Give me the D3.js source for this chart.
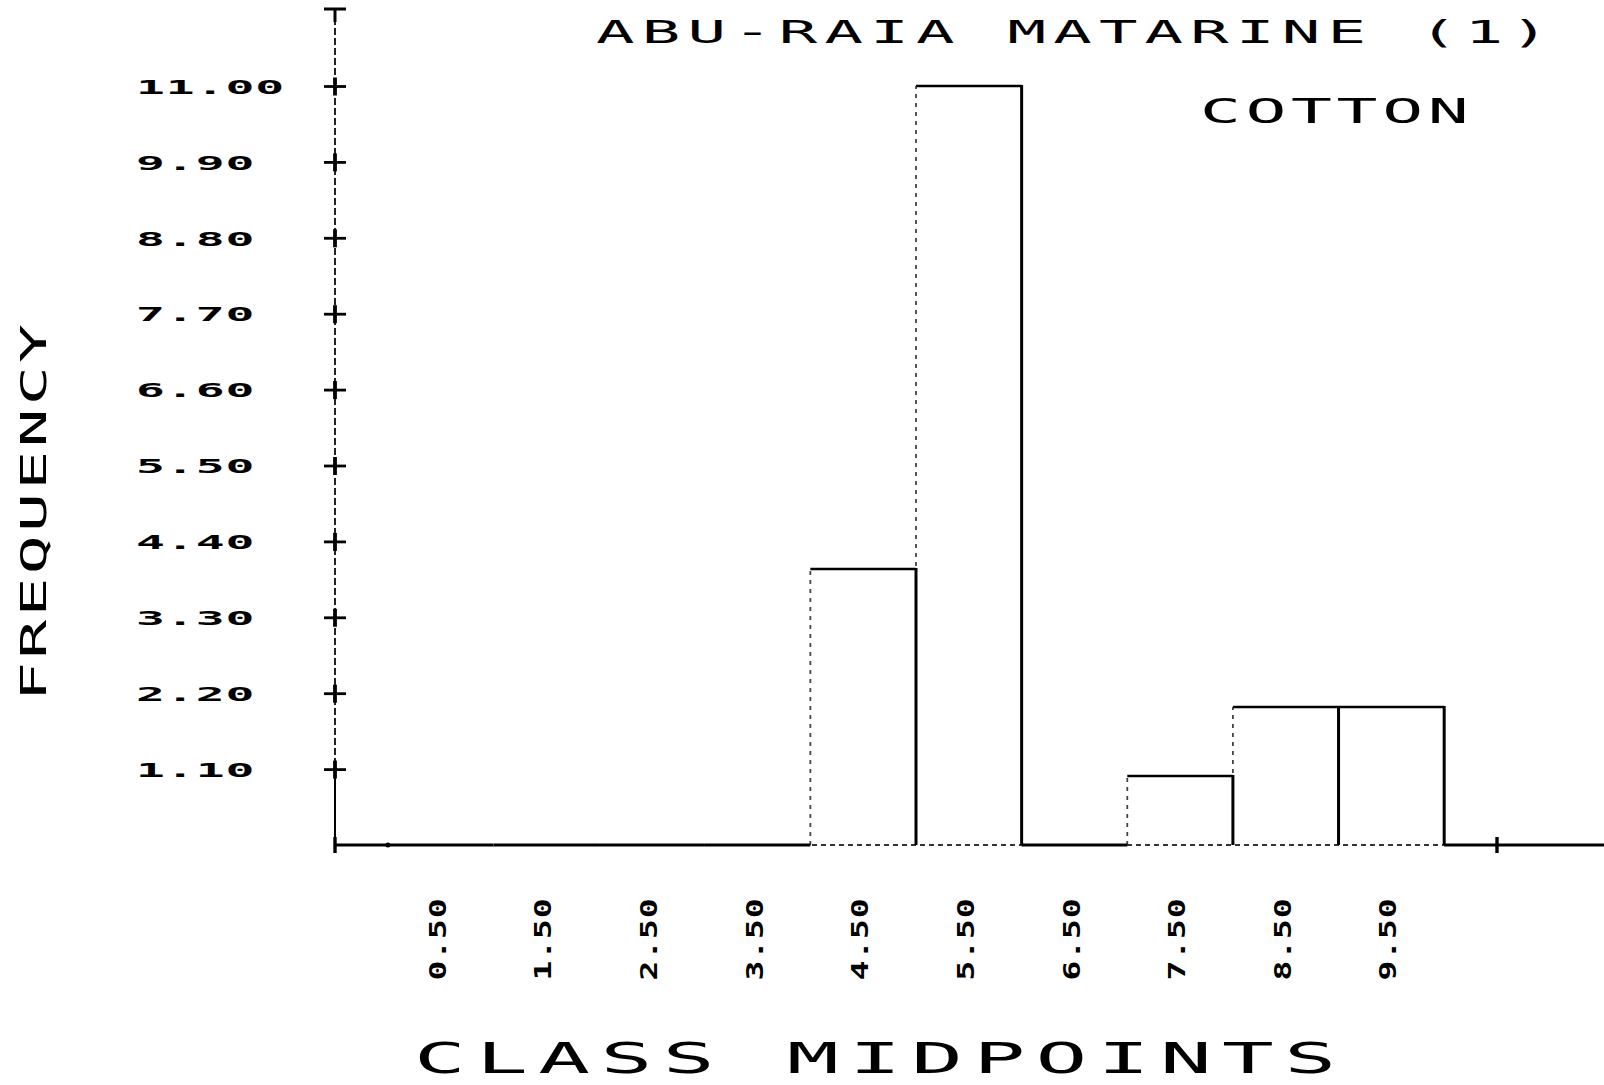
<!DOCTYPE html>
<html><head><meta charset="utf-8">
<script src="https://cdn.jsdelivr.net/npm/d3@7"></script>
<style>body{margin:0;background:#fff}svg{display:block}</style>
</head><body><svg id="c" width="1604" height="1085"></svg>
<script>
// ---- data ----
const classMidpoints = [0.5, 1.5, 2.5, 3.5, 4.5, 5.5, 6.5, 7.5, 8.5, 9.5];
const midpointLabels = ["0.50", "1.50", "2.50", "3.50", "4.50", "5.50", "6.50", "7.50", "8.50", "9.50"];
const frequencies = [0, 0, 0, 0, 4, 11, 0, 1, 2, 2];
const yTickValues = [1.1, 2.2, 3.3, 4.4, 5.5, 6.6, 7.7, 8.8, 9.9, 11.0];
const yTickLabels = ["1.10", "2.20", "3.30", "4.40", "5.50", "6.60", "7.70", "8.80", "9.90", "11.00"];
const titleText = "ABU-RAIA MATARINE (1)";
const subtitleText = "COTTON";
const xTitleText = "CLASS MIDPOINTS";
const yTitleText = "FREQUENCY";

// ---- setup ----
const W = 1604, H = 1085;
const svg = d3.select("#c");
svg.append("rect").attr("width", W).attr("height", H).attr("fill", "#fff");
const mono = "'DejaVu Sans Mono', 'Liberation Mono', monospace";
const x = d3.scaleLinear().domain([-0.5, 10.5]).range([335, 1497]);
const y = d3.scaleLinear().domain([0, 11]).range([845, 86]);
const bins = classMidpoints.map((m, i) => ({ m, f: frequencies[i], x0: m - 0.5, x1: m + 0.5 }));

// ---- baseline ----
svg.append("line").attr("x1", x(-0.5)).attr("x2", W).attr("y1", y(0)).attr("y2", y(0))
  .attr("stroke", "#333").attr("stroke-width", 1.8).attr("stroke-dasharray", "5,4");
svg.append("line").attr("x1", x(-0.5)).attr("x2", x(0)).attr("y1", y(0)).attr("y2", y(0))
  .attr("stroke", "#000").attr("stroke-width", 3);
svg.append("line").attr("x1", x(10)).attr("x2", W).attr("y1", y(0)).attr("y2", y(0))
  .attr("stroke", "#000").attr("stroke-width", 3);
// x-axis crosses
[-0.5, 10.5].forEach(v => {
  svg.append("line").attr("x1", x(v)).attr("x2", x(v)).attr("y1", y(0) - 8).attr("y2", y(0) + 8)
    .attr("stroke", "#000").attr("stroke-width", 3.4);
});
svg.append("circle").attr("cx", x(0)).attr("cy", y(0)).attr("r", 2.5).attr("fill", "#000");

// ---- bars ----
const gb = svg.append("g");
gb.selectAll(".left").data(bins.filter(b => b.f > 0)).join("line")
  .attr("x1", d => x(d.x0)).attr("x2", d => x(d.x0))
  .attr("y1", y(0)).attr("y2", d => y(d.f))
  .attr("stroke", "#444").attr("stroke-width", 1.8).attr("stroke-dasharray", "4,5");
gb.selectAll(".top").data(bins).join("line")
  .attr("x1", d => x(d.x0)).attr("x2", d => x(d.x1))
  .attr("y1", d => y(d.f)).attr("y2", d => y(d.f))
  .attr("stroke", "#000").attr("stroke-width", d => d.f > 0 ? 2.6 : 3);
gb.selectAll(".right").data(bins.filter(b => b.f > 0)).join("line")
  .attr("x1", d => x(d.x1)).attr("x2", d => x(d.x1))
  .attr("y1", d => y(d.f) - 1).attr("y2", y(0))
  .attr("stroke", "#000").attr("stroke-width", 3);

// ---- y axis ----
svg.append("line").attr("x1", x(-0.5)).attr("x2", x(-0.5)).attr("y1", 8).attr("y2", y(0))
  .attr("stroke", "#222").attr("stroke-width", 2).attr("stroke-dasharray", "7,3");
svg.append("line").attr("x1", x(-0.5) - 11).attr("x2", x(-0.5) + 11).attr("y1", 9).attr("y2", 9)
  .attr("stroke", "#000").attr("stroke-width", 3);
svg.append("line").attr("x1", x(-0.5)).attr("x2", x(-0.5)).attr("y1", 9).attr("y2", 22)
  .attr("stroke", "#000").attr("stroke-width", 3);

const yAxis = d3.axisLeft(y).tickValues(yTickValues)
  .tickFormat((d, i) => yTickLabels[i]).tickSizeInner(11).tickSizeOuter(0);
const gy = svg.append("g").attr("transform", `translate(${x(-0.5)},0)`).call(yAxis);
gy.select(".domain").remove();
gy.selectAll(".tick line").attr("x1", -11).attr("x2", 11)
  .attr("stroke", "#000").attr("stroke-width", 2.8);
gy.selectAll(".tick").append("line").attr("x1", 0).attr("x2", 0).attr("y1", -9).attr("y2", 9)
  .attr("stroke", "#000").attr("stroke-width", 3.8);
gy.selectAll(".tick").filter(d => d === yTickValues[0]).append("line")
  .attr("x1", 0).attr("x2", 0).attr("y1", 8).attr("y2", y(0) - y(yTickValues[0]))
  .attr("stroke", "#000").attr("stroke-width", 2);
gy.selectAll(".tick text")
  .attr("x", 0).attr("dy", "0.36em").attr("text-anchor", "start")
  .attr("transform", `translate(${136 - x(-0.5)},0) scale(2.4,1)`)
  .attr("fill", "#000")
  .style("font-family", mono).style("font-weight", "bold").style("font-size", "20px")
  .style("letter-spacing", "0.4px");

// ---- x tick labels ----
const xAxis = d3.axisBottom(x).tickValues(classMidpoints)
  .tickFormat((d, i) => midpointLabels[i]).tickSize(0);
const gx = svg.append("g").attr("transform", `translate(0,${y(0)})`).call(xAxis);
gx.select(".domain").remove();
gx.selectAll(".tick line").remove();
gx.selectAll(".tick text")
  .attr("x", 0).attr("y", 0).attr("dy", "0.36em").attr("text-anchor", "middle")
  .attr("transform", `translate(-4,${939 - y(0)}) rotate(-90) scale(1.5,1.08)`)
  .attr("fill", "#000")
  .style("font-family", mono).style("font-weight", "bold").style("font-size", "22px")
  .style("letter-spacing", "0.6px");

// ---- titles ----
function label(txt, tx, ty, rot, sx, size, ls) {
  svg.append("text").text(txt)
    .attr("transform", `translate(${tx},${ty}) rotate(${rot}) scale(${sx},1)`)
    .attr("text-anchor", "start")
    .attr("fill", "#000")
    .style("font-family", mono).style("font-size", size + "px")
    .style("letter-spacing", ls + "px");
}
label(titleText, 596, 43, 0, 2.0, 32, 3.6);
label(subtitleText, 1200, 123, 0, 2.0, 34, 2.3);
label(xTitleText, 414, 1073, 0, 2.0, 43, 5.2);
label(yTitleText, 46, 701, -90, 1.8, 36, 1.8);
</script>
</body></html>
